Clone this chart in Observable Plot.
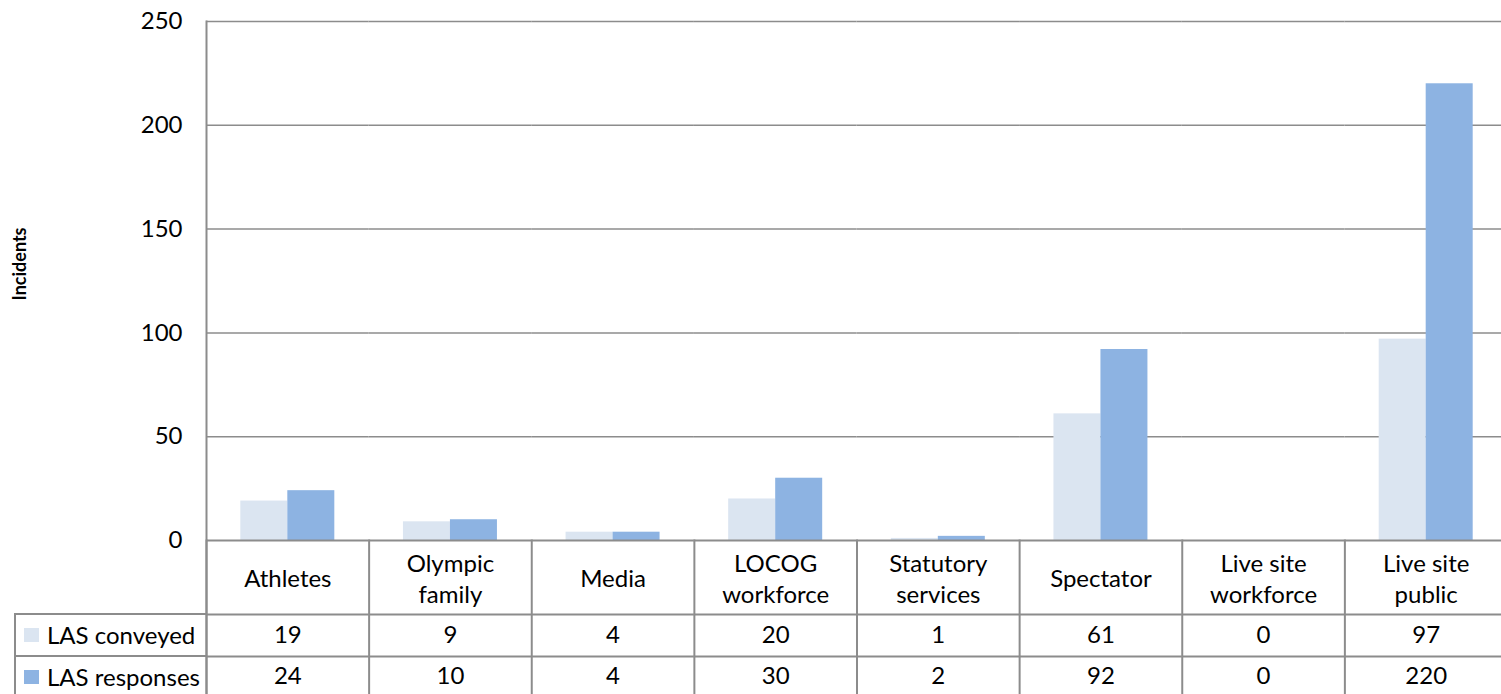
<!DOCTYPE html>
<html>
<head>
<meta charset="utf-8">
<script src="https://cdn.jsdelivr.net/npm/d3@7"></script>
<script src="https://cdn.jsdelivr.net/npm/@observablehq/plot@0.6"></script>
<style>
  html, body { margin: 0; padding: 0; overflow: hidden; background: #fff; }
  #wrap { position: relative; width: 1501px; height: 694px; overflow: hidden; }
  #wrap svg { position: absolute; left: 0; top: 0; max-width: none !important; }
  #legend { position: absolute; left: 14px; top: 613px; width: 192px; font-family: Lato, sans-serif; font-size: 24px; color: #000; }
  .lrow { position: relative; height: 40px; border-top: 2px solid #8c8c8c; border-left: 2px solid #8c8c8c; }
  .sw { position: absolute; left: 8px; top: 13px; width: 15px; height: 14px; }
  .lt { position: absolute; left: 31px; top: -1px; line-height: 42px; white-space: nowrap; }
</style>
</head>
<body>
<div id="wrap"></div>
<script>
// ---- data ----
const categories = ["Athletes", "Olympic family", "Media", "LOCOG workforce", "Statutory services", "Spectator", "Live site workforce", "Live site public"];
const categoryLabels = ["Athletes", "Olympic\nfamily", "Media", "LOCOG\nworkforce", "Statutory\nservices", "Spectator", "Live site\nworkforce", "Live site\npublic"];
const seriesNames = ["LAS conveyed", "LAS responses"];
const conveyed = [19, 9, 4, 20, 1, 61, 0, 97];
const responses = [24, 10, 4, 30, 2, 92, 0, 220];
const yTicks = [0, 50, 100, 150, 200, 250];
const seriesColors = ["#dbe5f1", "#8db3e2"];
const yLabel = "Incidents";

// ---- derived tables ----
const long = categories.flatMap((c, i) => [
  {category: c, series: seriesNames[0], value: conveyed[i]},
  {category: c, series: seriesNames[1], value: responses[i]}
]);
const wide = categories.map((c, i) => ({category: c, label: categoryLabels[i], conveyed: conveyed[i], responses: responses[i]}));

const W = 1507, H = 694, mL = 206, mT = 21, mB = 154;
const gray = "#8c8c8c";
const plotH = H - mT - mB;

const chart = Plot.plot({
  width: W,
  height: H,
  marginLeft: mL,
  marginRight: 0,
  marginTop: mT,
  marginBottom: mB,
  style: {fontFamily: "Lato, sans-serif", fontSize: "24px", color: "#000", background: "transparent", overflow: "visible", maxWidth: "none"},
  fx: {domain: categories, paddingInner: 0, paddingOuter: 0, round: false, axis: null, label: null},
  x: {domain: seriesNames, paddingInner: 0, paddingOuter: 0.73, round: false, axis: null},
  y: {domain: [0, 250], ticks: yTicks, tickSize: 0, tickPadding: 24, label: null},
  color: {domain: seriesNames, range: seriesColors},
  marks: [
    Plot.ruleY(yTicks.filter(t => t > 0), {stroke: gray, strokeWidth: 1.5}),
    Plot.barY(long, {fx: "category", x: "series", y: "value", fill: "series"}),
    Plot.ruleY([0], {stroke: gray, strokeWidth: 2}),
    Plot.ruleY([0], {stroke: gray, strokeWidth: 2, dy: 74}),
    Plot.ruleY([0], {stroke: gray, strokeWidth: 2, dy: 116}),
    Plot.frame({anchor: "left", stroke: gray, strokeWidth: 2, insetTop: plotH, insetBottom: -170}),
    Plot.frame({anchor: "left", stroke: gray, strokeWidth: 2, insetBottom: -170, facetAnchor: "left"}),
    Plot.text([yLabel], {frameAnchor: "left", textAnchor: "middle", lineAnchor: "middle", dx: -186, dy: -17, rotate: -90, fontWeight: "bold", fontSize: 18, facetAnchor: "left"}),
    Plot.text(wide, {fx: "category", text: "label", frameAnchor: "bottom", lineAnchor: "middle", dy: 37, lineHeight: 1.3}),
    Plot.text(wide, {fx: "category", text: d => String(d.conveyed), frameAnchor: "bottom", lineAnchor: "middle", dy: 95}),
    Plot.text(wide, {fx: "category", text: d => String(d.responses), frameAnchor: "bottom", lineAnchor: "middle", dy: 136})
  ]
});

const wrap = document.getElementById("wrap");
wrap.appendChild(chart);

// legend column of the data table
const legend = document.createElement("div");
legend.id = "legend";
seriesNames.forEach((name, i) => {
  const row = document.createElement("div");
  row.className = "lrow";
  const sw = document.createElement("div");
  sw.className = "sw";
  sw.style.background = seriesColors[i];
  const t = document.createElement("div");
  t.className = "lt";
  t.textContent = name;
  row.appendChild(sw);
  row.appendChild(t);
  legend.appendChild(row);
});
wrap.appendChild(legend);
</script>
</body>
</html>
